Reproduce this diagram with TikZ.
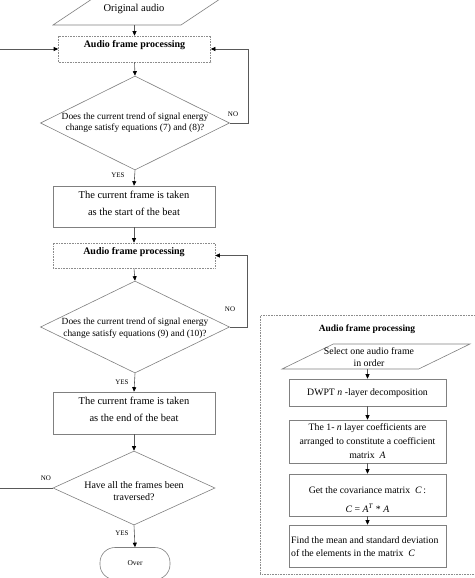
\documentclass[tikz,border=0pt]{standalone}
\usepackage{fontspec}
\setmainfont{Liberation Serif}
\usetikzlibrary{shapes.geometric,arrows.meta}
\begin{document}
\begin{tikzpicture}[x=1pt,y=-1pt,
  outline/.style={draw=black!50, line width=0.6pt},
  procbox/.style={outline, rectangle, inner sep=0pt},
  dotbox/.style={draw=black!45, densely dotted, line width=0.6pt, rectangle, inner sep=0pt},
  decision/.style={outline, diamond, inner sep=0pt},
  para/.style={outline, trapezium, trapezium left angle=59, trapezium right angle=121, trapezium stretches=true, inner sep=2pt},
  conn/.style={draw=black!65, line width=0.6pt, -{Triangle[length=4.5pt,width=4pt,color=black,fill=black]}},
  txt/.style={inner sep=0pt, align=center, font=\fontsize{10.5}{17}\selectfont},
  qtxt/.style={inner sep=0pt, align=center, font=\fontsize{9.4}{11.5}\selectfont},
  btxt/.style={inner sep=0pt, font=\fontsize{10}{12}\selectfont\bfseries},
  rtxt/.style={inner sep=0pt, align=center, font=\fontsize{9.8}{14}\selectfont},
  lbl/.style={inner sep=0pt, font=\fontsize{7}{8}\selectfont}
]
\useasboundingbox (0,0) rectangle (474,578);

% ---- main column ----
\node[para, minimum width=176pt, minimum height=32pt] (oa) at (141,9) {};
\node[inner sep=0pt, font=\fontsize{10.5}{12}\selectfont] (oat) at (134,9) {Original audio};

\node[dotbox, minimum width=152pt, minimum height=26pt] (p1) at (134.5,49) {};
\node[btxt] (p1t) at (134.5,45.5) {Audio frame processing};

\node[decision, minimum width=189pt, minimum height=94pt] (d1) at (135,123) {};
\node[qtxt] (d1t) at (135,122.5) {Does the current trend of signal energy\\change satisfy equations (7) and (8)?};

\node[procbox, minimum width=162pt, minimum height=41pt] (b1) at (134,206.5) {};
\node[txt] (b1t) at (134,203.5) {The current frame is taken\\as the start of the beat};

\node[dotbox, minimum width=162pt, minimum height=25pt] (p2) at (134,255.5) {};
\node[btxt] (p2t) at (134,252.5) {Audio frame processing};

\node[decision, minimum width=189pt, minimum height=92pt] (d2) at (135,327) {};
\node[qtxt] (d2t) at (135,328) {Does the current trend of signal energy\\change satisfy equations (9) and (10)?};

\node[procbox, minimum width=162pt, minimum height=42pt] (b2) at (134,413) {};
\node[txt] (b2t) at (134,409.5) {The current frame is taken\\as the end of the beat};

\node[decision, minimum width=162pt, minimum height=74pt] (d3) at (134,488) {};
\node[inner sep=0pt, align=center, font=\fontsize{10}{12}\selectfont] (d3t) at (134,491) {Have all the frames been\\traversed?};

\node[outline, rectangle, rounded corners=15pt, minimum width=70pt, minimum height=32pt, inner sep=0pt, font=\fontsize{7.5}{9}\selectfont] (over) at (135,563.5) {Over};

\coordinate (rl1) at (248,0);
\coordinate (rl2) at (247,0);
\coordinate (ll) at (-12,0);

\draw[conn] (p1.north |- oa.south) -- (p1.north);
\draw[conn] (p1.south) -- (d1.north);
\draw[conn] (d1.east) -- (d1.east -| rl1) |- (p1.east);
\draw[conn] (d1.south) -- (b1.north);
\draw[conn] (b1.south) -- (p2.north);
\draw[conn] (p2.south) -- (d2.north);
\draw[conn] (d2.east) -- (d2.east -| rl2) |- (p2.east);
\draw[conn] (d2.south) -- (b2.north);
\draw[conn] (b2.south) -- (d3.north);
\draw[conn] (d3.south) -- (over.north);
\draw[conn] (d3.west) -- (d3.west -| ll) |- (p1.west);

\node[lbl] (no1) at (233,114) {NO};
\node[lbl] (yes1) at (118,175) {YES};
\node[lbl] (no2) at (230,309) {NO};
\node[lbl] (yes2) at (122,382) {YES};
\node[lbl] (no3) at (46,478) {NO};
\node[lbl] (yes3) at (122,533) {YES};

% ---- right panel ----
\node[dotbox, anchor=north west, minimum width=240pt, minimum height=259pt] (panel) at (260,315) {};
\node[inner sep=0pt, font=\fontsize{9.5}{12}\selectfont\bfseries] (pt) at (367,329) {Audio frame processing};

\node[para, minimum width=188pt, minimum height=25pt] (s1) at (376,356.5) {};
\node[inner sep=0pt, align=center, font=\fontsize{9.8}{12}\selectfont] (s1t) at (369,357) {Select one audio frame\\in order};

\node[procbox, minimum width=157pt, minimum height=27pt] (r1) at (367.5,392.5) {};
\node[rtxt] (r1t) at (367.5,393) {DWPT \textit{n} -layer decomposition};

\node[procbox, minimum width=157pt, minimum height=43pt] (r2) at (367.5,441.5) {};
\node[inner sep=0pt, align=center, font=\fontsize{9.8}{14}\selectfont] (r2t) at (367.5,441) {The 1- \textit{n} layer coefficients are\\arranged to constitute a coefficient\\matrix \ \textit{A}};

\node[procbox, minimum width=157pt, minimum height=42pt] (r3) at (367.5,495) {};
\node[inner sep=0pt, align=center, font=\fontsize{9.8}{19}\selectfont] (r3t) at (367.5,499.5) {Get the covariance matrix \ \textit{C}\,:\\\textit{C} = \textit{A}\textsuperscript{\textit{\scriptsize T}} * \textit{A}};

\node[procbox, minimum width=157pt, minimum height=42pt] (r4) at (367.5,546) {};
\node[inner sep=0pt, align=left, anchor=west, font=\fontsize{9.8}{13}\selectfont] (r4t) at (291,546.5) {Find the mean and standard deviation\\of the elements in the matrix \ \textit{C}};

\draw[conn] (r1.north |- s1.south) -- (r1.north);
\draw[conn] (r1.south) -- (r2.north);
\draw[conn] (r2.south) -- (r3.north);
\draw[conn] (r3.south) -- (r4.north);
\end{tikzpicture}
\end{document}
